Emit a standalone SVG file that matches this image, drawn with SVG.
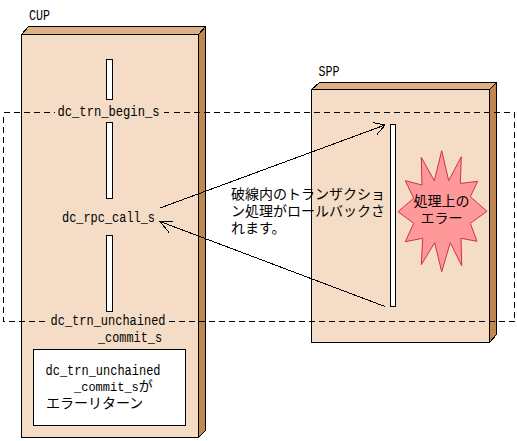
<svg xmlns="http://www.w3.org/2000/svg" width="517" height="441" viewBox="0 0 517 441">
<style>
.face{fill:#f4dcc6;stroke:#000;stroke-width:1}
.top{fill:#deb087;stroke:#000;stroke-width:1}
.side{fill:#c08850;stroke:#000;stroke-width:1}
.bar{fill:#fff;stroke:#000;stroke-width:1}
.ln{fill:none;stroke:#000;stroke-width:1}
.dash{fill:none;stroke:#000;stroke-width:1;stroke-dasharray:6 4}
text{font-family:"Liberation Mono","Noto Sans CJK JP",monospace;font-size:14px;fill:#000}
.lab{fill:#f4dcc6}
</style>
<g shape-rendering="crispEdges">
<g id="cup">
<polygon class="top" points="21.5,34.5 28.5,26.5 205.5,26.5 198.5,34.5"/>
<polygon class="side" points="198.5,34.5 205.5,26.5 205.5,430.5 198.5,437.5"/>
<rect class="face" x="21.5" y="34.5" width="177" height="403"/>
<rect class="bar" x="106.5" y="59.5" width="6" height="40"/>
<rect class="bar" x="106.5" y="122.5" width="6" height="76"/>
<rect class="bar" x="106.5" y="235.5" width="6" height="76"/>
</g>
<g id="spp">
<polygon class="top" points="311.5,89.5 319.5,82.5 496.5,82.5 489.5,89.5"/>
<polygon class="side" points="489.5,89.5 496.5,82.5 496.5,334.5 489.5,342.5"/>
<rect class="face" x="311.5" y="89.5" width="178" height="253"/>
<rect class="bar" x="390.5" y="124.5" width="5" height="182"/>
</g>
<g id="transaction-boundary">
<rect class="dash" x="3.5" y="112.5" width="511" height="209"/>
</g>
</g>
<g id="error">
<polygon points="441.7,150.7 448.7,180.7 461.3,156.7 460.3,183.5 477.7,181.3 470.3,196.7 487,211.3 470.3,223.3 477,241.3 461,238.3 461.7,265.7 450.3,242.7 441.7,271.7 434.7,242.7 421.3,264.7 422.7,238.3 405.3,241.7 413.7,223.3 398,211.7 413.7,198.3 405.3,180.7 422,185 421.3,157.3 434.3,180.7" fill="#ff9999" stroke="#cc3344" stroke-width="1"/>
<text text-anchor="middle" x="441.5" y="206">処理上の</text>
<text text-anchor="middle" x="441.5" y="223">エラー</text>
</g>
<g id="connectors" shape-rendering="crispEdges">
<path class="ln" d="M160 208L385 125M373 122.5L385 125L377 134.5"/>
<path class="ln" d="M385 306.5L160 221.5M172.5 222L160 221.5L169 232.5"/>
</g>
<g id="cup-labels">
<text x="29" y="20" textLength="21" lengthAdjust="spacingAndGlyphs">CUP</text>
<rect class="lab" x="55" y="106" width="107" height="13"/>
<text x="57.5" y="116" textLength="102" lengthAdjust="spacingAndGlyphs">dc_trn_begin_s</text>
<text x="62" y="222" textLength="93" lengthAdjust="spacingAndGlyphs">dc_rpc_call_s</text>
<rect class="lab" x="48" y="314" width="119" height="14"/>
<text x="50.5" y="325" textLength="115" lengthAdjust="spacingAndGlyphs">dc_trn_unchained</text>
<text x="98" y="342" textLength="64" lengthAdjust="spacingAndGlyphs">_commit_s</text>
</g>
<g id="error-return">
<rect x="33.5" y="349.5" width="152" height="76" fill="#fff" stroke="#000" shape-rendering="crispEdges"/>
<text x="45.5" y="375" textLength="115" lengthAdjust="spacingAndGlyphs">dc_trn_unchained</text>
<text x="74" y="391" font-size="12" style="font-size:12px">_commit_s<tspan style="font-size:14px">が</tspan></text>
<text x="46" y="408">エラーリターン</text>
</g>
<g id="spp-label">
<text x="318.5" y="76" textLength="21" lengthAdjust="spacingAndGlyphs">SPP</text>
</g>
<g id="note">
<text x="231" y="199">破線内のトランザクショ</text>
<text x="231" y="216">ン処理がロールバックさ</text>
<text x="231" y="233">れます。</text>
</g>
</svg>
